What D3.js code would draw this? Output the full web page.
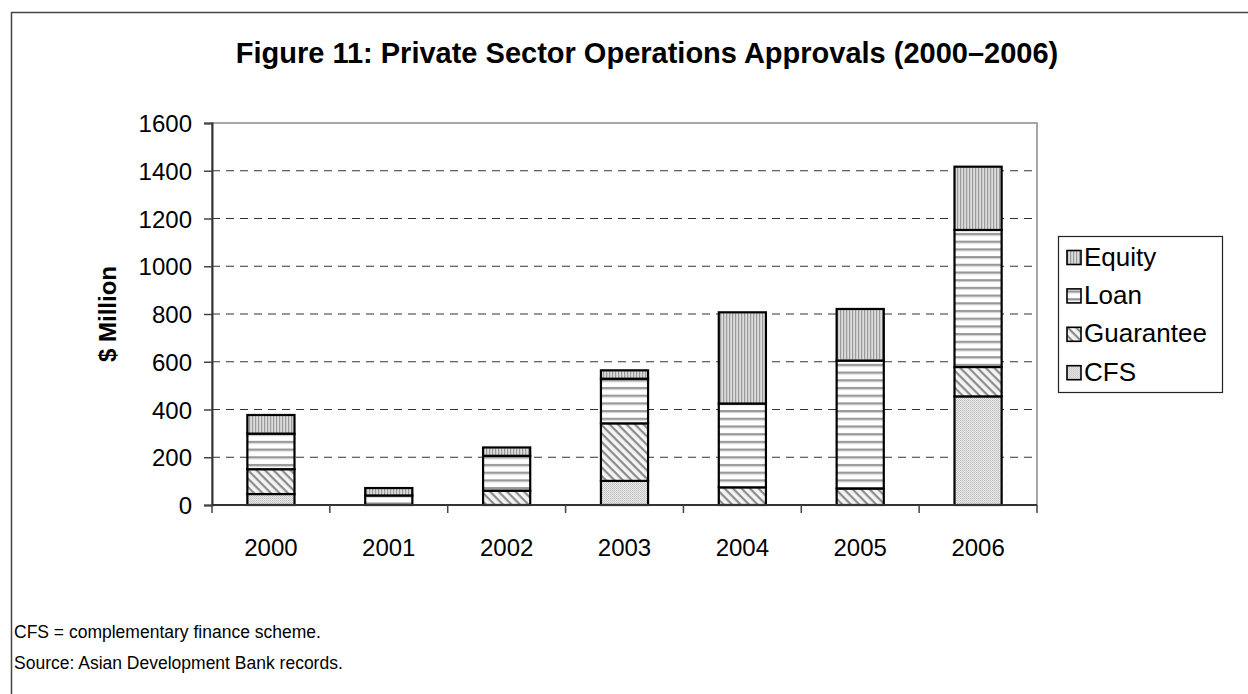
<!DOCTYPE html>
<html>
<head>
<meta charset="utf-8">
<script src="https://cdn.jsdelivr.net/npm/d3@7"></script>
<style>
  html, body { margin: 0; padding: 0; background: #fff; }
  svg { display: block; font-family: "Liberation Sans", Arial, sans-serif; }
</style>
</head>
<body>
<svg id="chart" width="1248" height="694"></svg>
<script>
// Approvals by year, $ million
const years = ["2000", "2001", "2002", "2003", "2004", "2005", "2006"];
const cfs       = [46, 0, 0, 101, 0, 0, 455];
const guarantee = [104, 0, 60, 241, 74, 69, 123];
const loan      = [149, 40, 146, 187, 351, 536, 574];
const equity    = [78, 31, 35, 35, 382, 216, 265];
const seriesNames = ["CFS", "Guarantee", "Loan", "Equity"];
const yTicks = [0, 200, 400, 600, 800, 1000, 1200, 1400, 1600];

const rows = years.map((y, i) => ({
  year: y, CFS: cfs[i], Guarantee: guarantee[i], Loan: loan[i], Equity: equity[i]
}));

const svg = d3.select("#chart");
const font = "'Liberation Sans', Arial, sans-serif";

// Fill patterns
const defs = svg.append("defs");
const pCFS = defs.append("pattern").attr("id", "p-CFS")
  .attr("patternUnits", "userSpaceOnUse").attr("width", 2).attr("height", 2);
pCFS.append("rect").attr("width", 2).attr("height", 2).attr("fill", "#ececec");
pCFS.append("rect").attr("width", 1).attr("height", 1).attr("fill", "#bdbdbd");
pCFS.append("rect").attr("x", 1).attr("y", 1).attr("width", 1).attr("height", 1).attr("fill", "#c8c8c8");

const pG = defs.append("pattern").attr("id", "p-Guarantee")
  .attr("patternUnits", "userSpaceOnUse").attr("width", 6).attr("height", 6)
  .attr("patternTransform", "rotate(45)");
pG.append("rect").attr("width", 6).attr("height", 6).attr("fill", "#f4f4f4");
pG.append("rect").attr("width", 6).attr("height", 2.2).attr("fill", "#8c8c8c");

const pL = defs.append("pattern").attr("id", "p-Loan")
  .attr("patternUnits", "userSpaceOnUse").attr("width", 8).attr("height", 7.7);
pL.append("rect").attr("width", 8).attr("height", 7.7).attr("fill", "#ffffff");
pL.append("rect").attr("y", 2).attr("width", 8).attr("height", 2).attr("fill", "#959595");
pL.append("rect").attr("y", 4).attr("width", 8).attr("height", 1).attr("fill", "#cccccc");

const pE = defs.append("pattern").attr("id", "p-Equity")
  .attr("patternUnits", "userSpaceOnUse").attr("width", 3).attr("height", 8);
pE.append("rect").attr("width", 3).attr("height", 8).attr("fill", "#dcdcdc");
pE.append("rect").attr("width", 1.2).attr("height", 8).attr("fill", "#9a9a9a");

// Outer frame (left and top edges visible)
svg.append("path").attr("d", "M11.5,700 V12.5 H1260")
  .attr("fill", "none").attr("stroke", "#444").attr("stroke-width", 1.5);

// Title
svg.append("text").attr("x", 647).attr("y", 63).attr("text-anchor", "middle")
  .attr("font-family", font).attr("font-weight", "bold").attr("font-size", 29)
  .text("Figure 11: Private Sector Operations Approvals (2000\u20132006)");

// Scales
const x = d3.scaleBand().domain(years).range([212, 1037])
  .paddingInner(0.6).paddingOuter(0.3);
const y = d3.scaleLinear().domain([0, 1600]).range([505, 123]);

// Plot area frame
svg.append("rect").attr("x", 212).attr("y", y(1600)).attr("width", 1037 - 212)
  .attr("height", y(0) - y(1600)).attr("fill", "none")
  .attr("stroke", "#8a8a8a").attr("stroke-width", 1.5);

// Gridlines
svg.append("g").selectAll("line").data(yTicks.filter(t => t > 0 && t < 1600)).join("line")
  .attr("x1", 212).attr("x2", 1037)
  .attr("y1", d => y(d)).attr("y2", d => y(d))
  .attr("stroke", "#333").attr("stroke-width", 1).attr("stroke-dasharray", "8,6");

// Stacked bars
const stack = d3.stack().keys(seriesNames)(rows);
const layers = svg.append("g").selectAll("g").data(stack).join("g")
  .attr("fill", d => `url(#p-${d.key})`);
layers.selectAll("rect").data(d => d.filter(s => s[1] - s[0] > 0)).join("rect")
  .attr("x", d => x(d.data.year))
  .attr("width", x.bandwidth())
  .attr("y", d => y(d[1]))
  .attr("height", d => y(d[0]) - y(d[1]))
  .attr("stroke", "#000").attr("stroke-width", 2.2);

// Y axis
const yAxis = d3.axisLeft(y).tickValues(yTicks).tickFormat(d3.format("d"))
  .tickSize(8).tickPadding(12);
const gy = svg.append("g").attr("transform", "translate(212,0)").call(yAxis);
gy.select(".domain").attr("stroke", "#333").attr("stroke-width", 2);
gy.selectAll(".tick line").attr("stroke", "#444").attr("stroke-width", 1.5);
gy.selectAll(".tick text").attr("font-family", font).attr("font-size", 24)
  .attr("fill", "#000").attr("dy", "0.36em");

// X axis: baseline, ticks between categories, labels
svg.append("line").attr("x1", 212).attr("x2", 1037).attr("y1", y(0)).attr("y2", y(0))
  .attr("stroke", "#333").attr("stroke-width", 2);
const bounds = d3.range(years.length + 1).map(i => x.range()[0] + i * x.step());
svg.append("g").selectAll("line").data(bounds).join("line")
  .attr("x1", d => d).attr("x2", d => d).attr("y1", y(0)).attr("y2", y(0) + 8)
  .attr("stroke", "#444").attr("stroke-width", 1.5);
svg.append("g").selectAll("text").data(years).join("text")
  .attr("x", d => x(d) + x.bandwidth() / 2).attr("y", 556)
  .attr("text-anchor", "middle").attr("font-family", font).attr("font-size", 24)
  .text(d => d);

// Y axis title
svg.append("text").attr("transform", "translate(116,314) rotate(-90)")
  .attr("text-anchor", "middle").attr("font-family", font)
  .attr("font-weight", "bold").attr("font-size", 24).text("$ Million");

// Legend
const lg = svg.append("g");
lg.append("rect").attr("x", 1058.5).attr("y", 236.5).attr("width", 164).attr("height", 156)
  .attr("fill", "#fff").attr("stroke", "#222").attr("stroke-width", 1.2);
const legendOrder = ["Equity", "Loan", "Guarantee", "CFS"];
const li = lg.selectAll("g.item").data(legendOrder).join("g").attr("class", "item")
  .attr("transform", (d, i) => `translate(1067, ${265.5 + i * 38.4})`);
li.append("rect").attr("x", 0).attr("y", -15).attr("width", 14).attr("height", 14)
  .attr("fill", d => `url(#p-${d})`).attr("stroke", "#000").attr("stroke-width", 1.6);
li.append("text").attr("x", 17).attr("y", 0).attr("font-family", font)
  .attr("font-size", 26).text(d => d);

// Notes
svg.append("text").attr("x", 14).attr("y", 638).attr("font-family", font)
  .attr("font-size", 17.5).text("CFS = complementary finance scheme.");
svg.append("text").attr("x", 14).attr("y", 669).attr("font-family", font)
  .attr("font-size", 17.5).text("Source: Asian Development Bank records.");
</script>
</body>
</html>
